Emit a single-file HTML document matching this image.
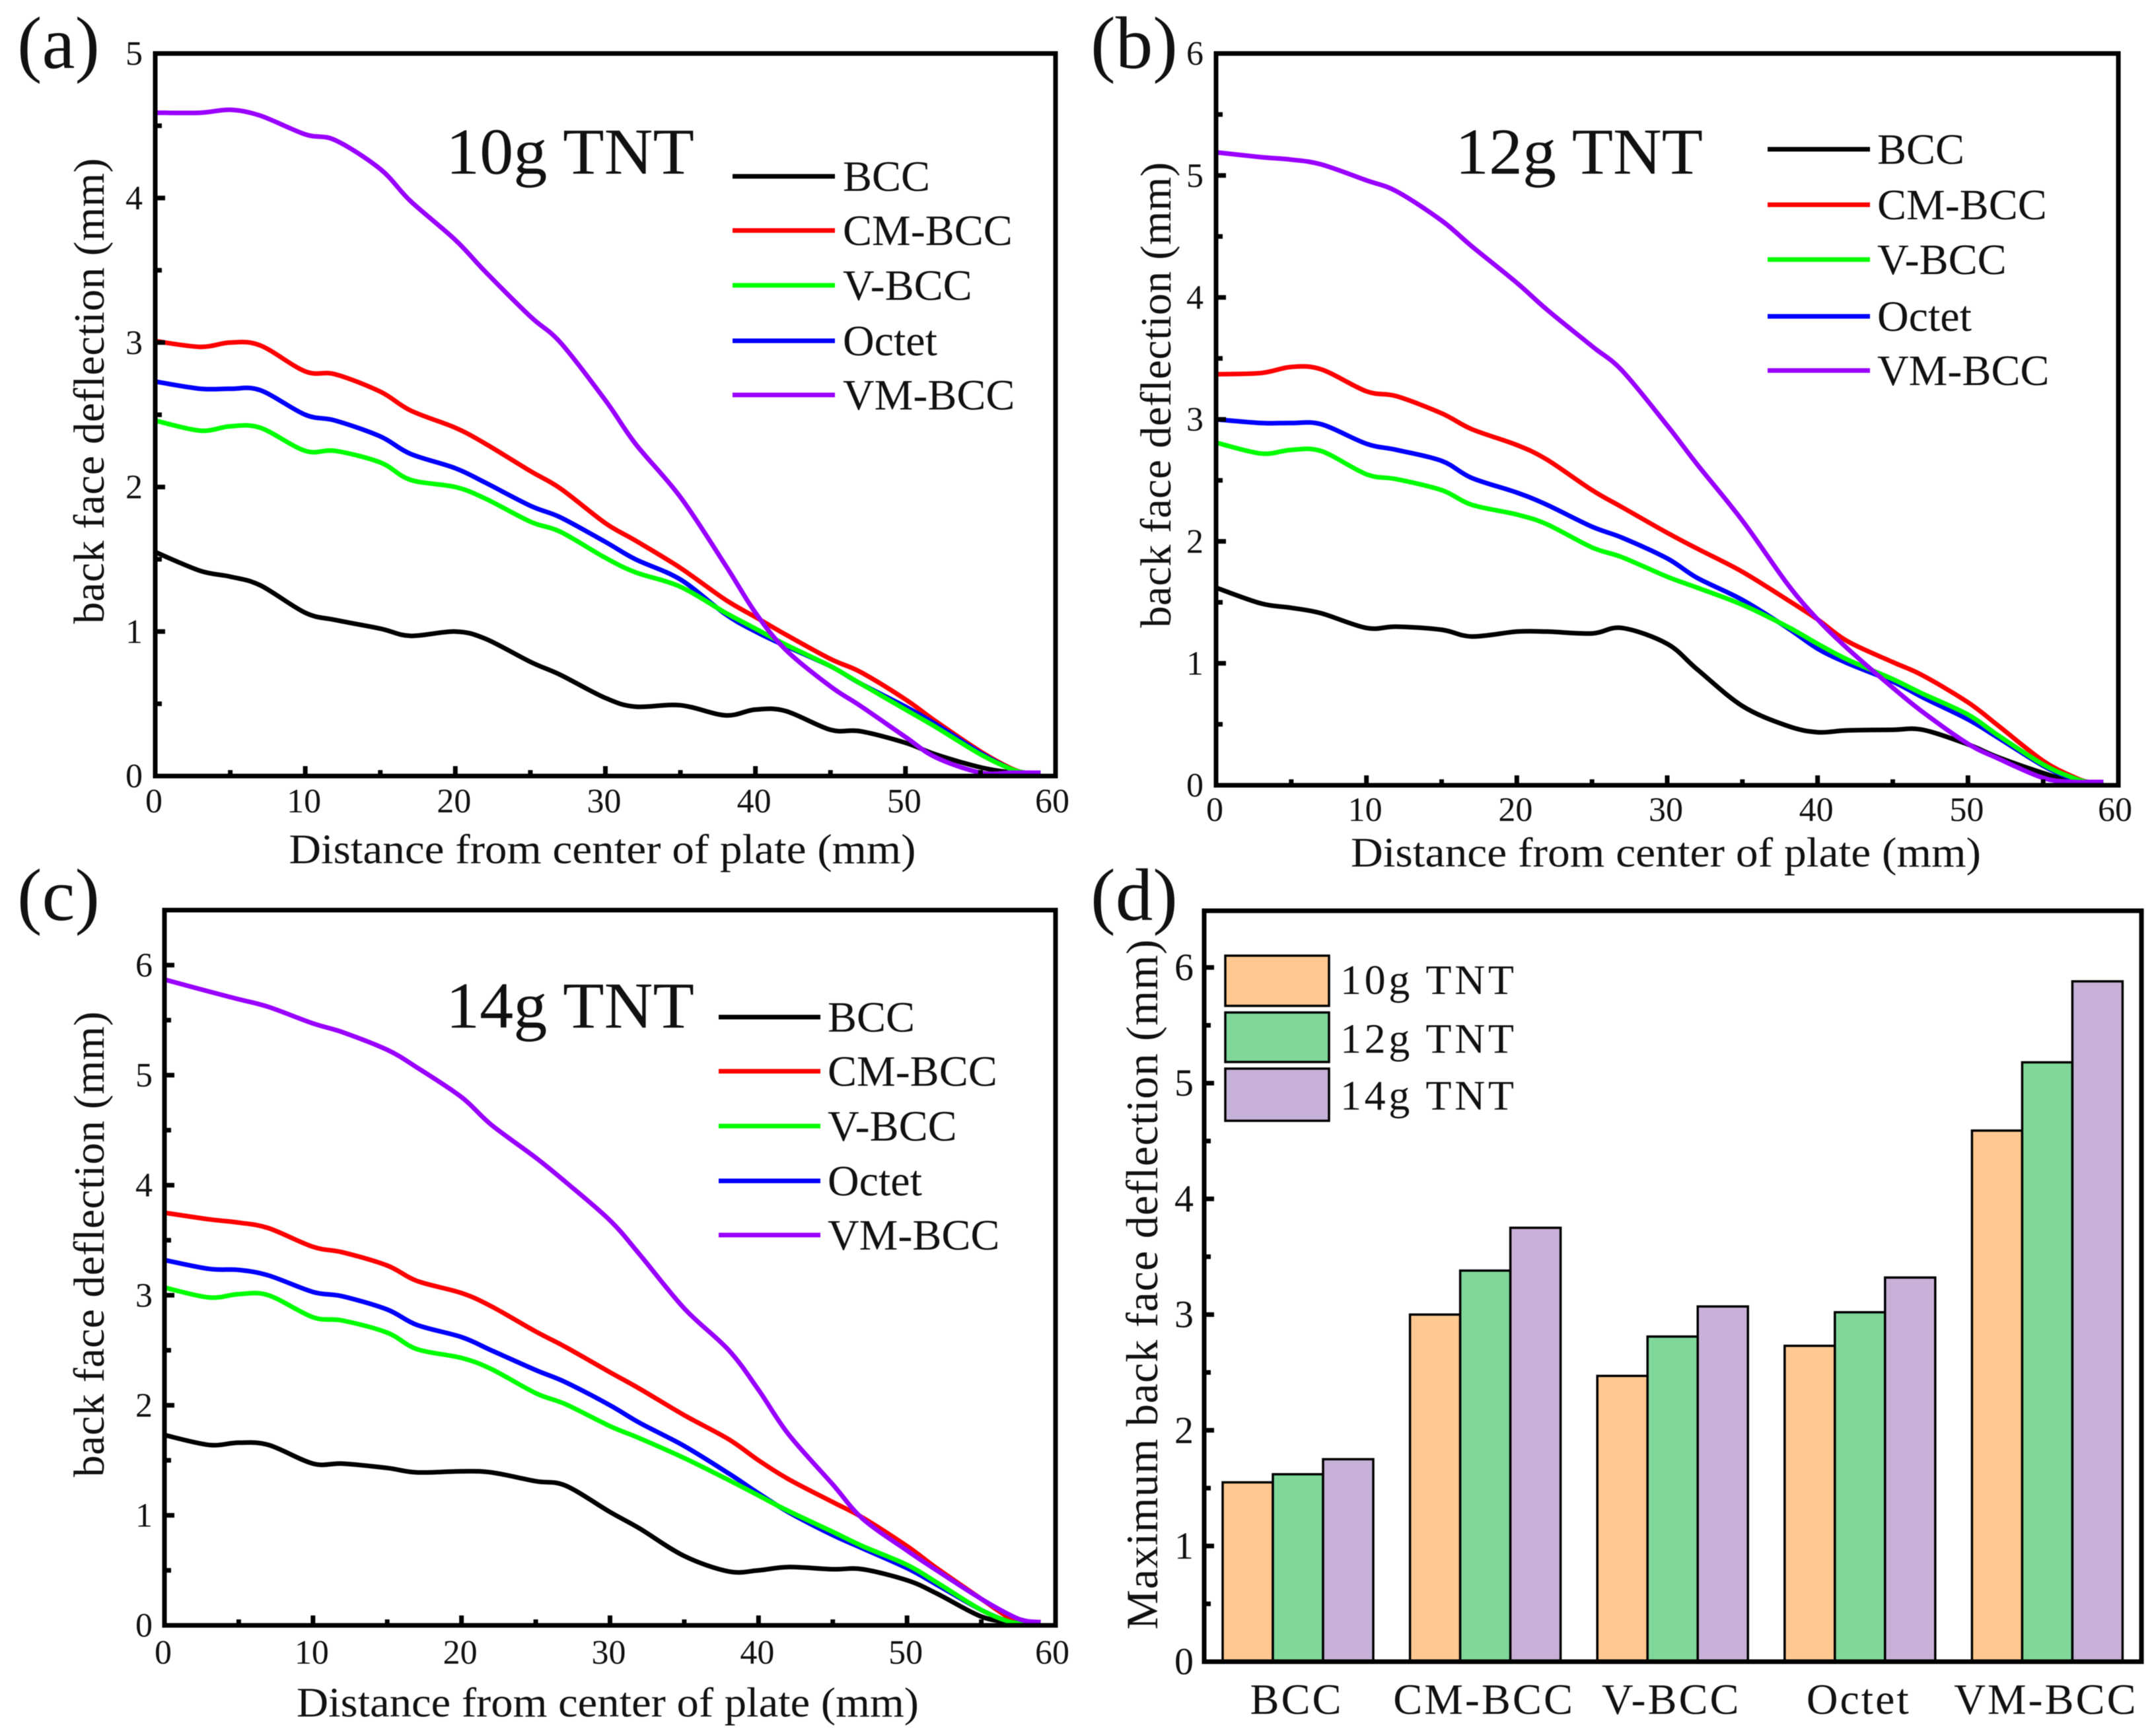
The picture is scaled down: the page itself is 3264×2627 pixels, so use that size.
<!DOCTYPE html>
<html lang="en">
<head>
<meta charset="utf-8">
<title>Back face deflection charts</title>
<style>
html,body{margin:0;padding:0;background:#fff;}
svg{display:block;filter:blur(0.6px);}
text{font-family:"Liberation Serif","Times New Roman",serif;fill:#111;}
</style>
</head>
<body>
<svg id="figure" xmlns="http://www.w3.org/2000/svg" width="3264" height="2627" viewBox="0 0 3264 2627">
<rect x="0" y="0" width="3264" height="2627" fill="#fff"/>

<g id="panel-a"></g>
<g id="panel-b"></g>
<g id="panel-c"></g>
<g id="panel-d"></g>

<text x="26" y="103" font-size="112" textLength="125" lengthAdjust="spacingAndGlyphs">(a)</text>
<text x="1651" y="103" font-size="112" textLength="132" lengthAdjust="spacingAndGlyphs">(b)</text>
<text x="26" y="1393" font-size="112" textLength="125" lengthAdjust="spacingAndGlyphs">(c)</text>
<text x="1651" y="1393" font-size="112" textLength="132" lengthAdjust="spacingAndGlyphs">(d)</text>

<text x="675" y="263" font-size="100" textLength="376" lengthAdjust="spacingAndGlyphs">10g TNT</text>
<text x="2203" y="263" font-size="100" textLength="375" lengthAdjust="spacingAndGlyphs">12g TNT</text>
<text x="675" y="1556" font-size="100" textLength="376" lengthAdjust="spacingAndGlyphs">14g TNT</text>

<text x="912" y="1307" font-size="64" text-anchor="middle" textLength="949" lengthAdjust="spacingAndGlyphs">Distance from center of plate (mm)</text>
<text x="2522" y="1312" font-size="64" text-anchor="middle" textLength="954" lengthAdjust="spacingAndGlyphs">Distance from center of plate (mm)</text>
<text x="920" y="2599" font-size="64" text-anchor="middle" textLength="942" lengthAdjust="spacingAndGlyphs">Distance from center of plate (mm)</text>

<text transform="translate(157 592) rotate(-90)" font-size="66" text-anchor="middle" textLength="705" lengthAdjust="spacing">back face deflection (mm)</text>
<text transform="translate(1772 598) rotate(-90)" font-size="66" text-anchor="middle" textLength="705" lengthAdjust="spacing">back face deflection (mm)</text>
<text transform="translate(157 1884) rotate(-90)" font-size="66" text-anchor="middle" textLength="705" lengthAdjust="spacing">back face deflection (mm)</text>
<text transform="translate(1752 1945) rotate(-90)" font-size="68" text-anchor="middle" textLength="1045" lengthAdjust="spacing">Maximum back face deflection (mm)</text>
</svg>

<script>
// ---------- chart data ----------
const distanceSamples = [0,3,5,7,10,12,15,17,20,22,25,27,30,32,35,38,40,42,45,47,50,52,55,57,58,59];

const panelABcc    = [1.55,1.42,1.38,1.32,1.13,1.08,1.02,0.97,1.00,0.95,0.79,0.70,0.54,0.48,0.49,0.42,0.46,0.45,0.32,0.31,0.23,0.15,0.06,0.025,0.01,0];
const panelACmBcc  = [3.01,2.97,3.00,2.98,2.80,2.78,2.66,2.53,2.41,2.30,2.11,1.99,1.75,1.63,1.44,1.22,1.10,0.98,0.81,0.72,0.53,0.38,0.17,0.055,0.02,0];
const panelAVBcc   = [2.46,2.39,2.42,2.41,2.25,2.25,2.17,2.05,2.00,1.92,1.76,1.69,1.51,1.41,1.31,1.13,1.02,0.91,0.76,0.64,0.46,0.34,0.15,0.05,0.015,0];
const panelAOctet  = [2.73,2.68,2.68,2.67,2.50,2.46,2.35,2.23,2.13,2.03,1.87,1.79,1.62,1.50,1.36,1.12,1.00,0.90,0.76,0.64,0.48,0.36,0.16,0.05,0.015,0];
const panelAVmBcc  = [4.59,4.59,4.61,4.57,4.44,4.40,4.20,3.98,3.71,3.49,3.18,3.00,2.60,2.30,1.93,1.46,1.13,0.875,0.62,0.485,0.27,0.13,0.016,0,0,0];

const panelBBcc    = [1.62,1.49,1.455,1.41,1.29,1.30,1.275,1.22,1.26,1.26,1.245,1.29,1.16,0.95,0.65,0.487,0.435,0.45,0.455,0.455,0.335,0.23,0.10,0.03,0.01,0];
const panelBCmBcc  = [3.37,3.38,3.43,3.41,3.23,3.19,3.05,2.92,2.79,2.67,2.42,2.28,2.07,1.94,1.75,1.52,1.36,1.18,1.01,0.90,0.68,0.49,0.20,0.07,0.02,0];
const panelBVBcc   = [2.81,2.72,2.75,2.74,2.55,2.51,2.42,2.30,2.22,2.14,1.95,1.87,1.71,1.62,1.48,1.30,1.16,1.03,0.87,0.75,0.58,0.41,0.17,0.06,0.02,0.01];
const panelBOctet  = [3.00,2.97,2.97,2.96,2.80,2.75,2.66,2.52,2.40,2.30,2.12,2.03,1.86,1.70,1.52,1.29,1.12,1.00,0.85,0.72,0.54,0.39,0.16,0.05,0.015,0];
const panelBVmBcc  = [5.19,5.15,5.13,5.09,4.96,4.87,4.63,4.42,4.12,3.90,3.60,3.40,2.95,2.63,2.17,1.65,1.36,1.12,0.80,0.60,0.34,0.22,0.06,0.01,0,0];

const panelCBcc    = [1.73,1.64,1.66,1.64,1.47,1.47,1.43,1.39,1.40,1.39,1.31,1.27,1.03,0.88,0.63,0.49,0.50,0.53,0.51,0.51,0.41,0.29,0.08,0,0,0];
const panelCCmBcc  = [3.75,3.69,3.66,3.61,3.44,3.39,3.27,3.13,3.02,2.90,2.67,2.53,2.30,2.15,1.91,1.69,1.50,1.33,1.12,0.98,0.72,0.52,0.24,0.06,0.01,0];
const panelCVBcc   = [3.07,2.98,3.01,3.00,2.80,2.77,2.66,2.51,2.43,2.33,2.11,2.01,1.81,1.70,1.52,1.32,1.18,1.04,0.85,0.72,0.55,0.39,0.14,0.03,0,0];
const panelCOctet  = [3.32,3.24,3.23,3.18,3.03,2.99,2.87,2.73,2.62,2.50,2.32,2.21,2.00,1.84,1.63,1.38,1.20,1.03,0.82,0.70,0.52,0.37,0.14,0.03,0,0];
const panelCVmBcc  = [5.87,5.76,5.69,5.62,5.47,5.39,5.23,5.07,4.80,4.55,4.25,4.03,3.68,3.37,2.88,2.50,2.14,1.74,1.28,0.97,0.68,0.50,0.24,0.09,0.04,0];

const barCategories = ['BCC','CM-BCC','V-BCC','Octet','VM-BCC'];
const bars10gTnt = [1.55,3.00,2.47,2.73,4.59];
const bars12gTnt = [1.62,3.38,2.81,3.02,5.18];
const bars14gTnt = [1.75,3.75,3.07,3.32,5.88];

const lineLegendLabels = ['BCC','CM-BCC','V-BCC','Octet','VM-BCC'];
const barLegendLabels = ['10g TNT','12g TNT','14g TNT'];
const distanceTicks = [0,10,20,30,40,50,60];
const distanceMinorTicks = [5,15,25,35,45,55];
const panelAYTicks = [0,1,2,3,4,5];
const sixUnitYTicks = [0,1,2,3,4,5,6];

// ---------- rendering ----------
const NS = 'http://www.w3.org/2000/svg';
const lineColors = {bcc:'#000000', cm:'#ff0000', v:'#00ff00', octet:'#0000ff', vm:'#9900ff'};
const legendColors = ['#000000','#ff0000','#00ff00','#0000ff','#9900ff'];
const barColors = ['#ffc890','#7fd899','#c8b1d8'];

function makeEl(tag, attrs){
  const el = document.createElementNS(NS, tag);
  for(const k in attrs){ el.setAttribute(k, attrs[k]); }
  return el;
}
function linearScale(d0,d1,r0,r1){
  return function(v){ return r0 + (v-d0)/(d1-d0)*(r1-r0); };
}
function smoothPath(points){
  let d = 'M'+points[0][0].toFixed(1)+' '+points[0][1].toFixed(1);
  for(let i=0;i<points.length-1;i++){
    const p0 = points[Math.max(0,i-1)], p1 = points[i], p2 = points[i+1], p3 = points[Math.min(points.length-1,i+2)];
    const c1x = p1[0]+(p2[0]-p0[0])/6, c1y = p1[1]+(p2[1]-p0[1])/6;
    const c2x = p2[0]-(p3[0]-p1[0])/6, c2y = p2[1]-(p3[1]-p1[1])/6;
    d += 'C'+c1x.toFixed(1)+' '+c1y.toFixed(1)+' '+c2x.toFixed(1)+' '+c2y.toFixed(1)+' '+p2[0].toFixed(1)+' '+p2[1].toFixed(1);
  }
  return d;
}
function drawTick(g, x1, y1, x2, y2, name){
  const t = makeEl('line',{x1:x1,y1:y1,x2:x2,y2:y2,stroke:'#000','stroke-width':7});
  
  
  g.appendChild(t);
}
function drawTickLabel(g, x, y, label, anchor, size, name){
  const t = makeEl('text',{x:x,y:y,'font-size':size,'text-anchor':anchor});
  
  
  t.textContent = label;
  g.appendChild(t);
}
function drawYAxis(g, box, yScale, yTicks, yMax, labelRight, size){
  yTicks.forEach(function(v){
    drawTick(g, box.left, yScale(v), box.left+15, yScale(v), 'y-major-tick');
    drawTickLabel(g, labelRight, yScale(v)+size*0.33, String(v), 'end', size, 'y-tick-label');
    if(v+0.5 <= yMax){
      drawTick(g, box.left, yScale(v+0.5), box.left+10, yScale(v+0.5), 'y-minor-tick');
    }
  });
}
function drawFrame(g, box){
  const f = makeEl('rect',{x:box.left,y:box.top,width:box.right-box.left,height:box.bottom-box.top,fill:'none',stroke:'#000','stroke-width':7});
  
  
  g.appendChild(f);
}
function drawLinePanel(cfg){
  const g = document.getElementById(cfg.id);
  const box = cfg.box;
  const xScale = linearScale(0,60,box.left,box.right);
  const yScale = linearScale(0,cfg.yMax,box.bottom,box.top);

  cfg.series.forEach(function(s){
    const pts = distanceSamples.map(function(x,i){ return [xScale(x), Math.min(yScale(s.values[i]), box.bottom-5)]; });
    const p = makeEl('path',{d:smoothPath(pts),fill:'none',stroke:s.color,'stroke-width':7,'stroke-linejoin':'round'});
    
    
    g.appendChild(p);
  });

  distanceTicks.forEach(function(v){
    if(v>0 && v<60){ drawTick(g, xScale(v), box.bottom, xScale(v), box.bottom-15, 'x-major-tick'); }
    drawTickLabel(g, xScale(v)-(v===60?5:2), cfg.xLabelBaseline, String(v), 'middle', 52, 'x-tick-label');
  });
  distanceMinorTicks.forEach(function(v){
    drawTick(g, xScale(v), box.bottom, xScale(v), box.bottom-9, 'x-minor-tick');
  });
  drawYAxis(g, box, yScale, cfg.yTicks, cfg.yMax, cfg.yLabelRight, 52);
  drawFrame(g, box);

  lineLegendLabels.forEach(function(label,i){
    const y = cfg.legend.ys[i];
    const ln = makeEl('line',{x1:cfg.legend.x1,x2:cfg.legend.x2,y1:y,y2:y,stroke:legendColors[i],'stroke-width':7});
    
    
    g.appendChild(ln);
    const t = makeEl('text',{x:cfg.legend.textX,y:y+22,'font-size':66});
    
    
    t.textContent = label;
    g.appendChild(t);
  });
}

drawLinePanel({
  id:'panel-a', box:{left:235,right:1598,top:81,bottom:1175}, yMax:5, yTicks:panelAYTicks, yLabelRight:216, xLabelBaseline:1230,
  series:[
    {name:'line-bcc-10g',values:panelABcc,color:lineColors.bcc},
    {name:'line-cm-bcc-10g',values:panelACmBcc,color:lineColors.cm},
    {name:'line-octet-10g',values:panelAOctet,color:lineColors.octet},
    {name:'line-v-bcc-10g',values:panelAVBcc,color:lineColors.v},
    {name:'line-vm-bcc-10g',values:panelAVmBcc,color:lineColors.vm}
  ],
  legend:{x1:1109,x2:1264,textX:1276,ys:[267,349,432,516,598]}
});
drawLinePanel({
  id:'panel-b', box:{left:1841,right:3207,top:81,bottom:1189}, yMax:6, yTicks:sixUnitYTicks, yLabelRight:1822, xLabelBaseline:1243,
  series:[
    {name:'line-bcc-12g',values:panelBBcc,color:lineColors.bcc},
    {name:'line-cm-bcc-12g',values:panelBCmBcc,color:lineColors.cm},
    {name:'line-octet-12g',values:panelBOctet,color:lineColors.octet},
    {name:'line-v-bcc-12g',values:panelBVBcc,color:lineColors.v},
    {name:'line-vm-bcc-12g',values:panelBVmBcc,color:lineColors.vm}
  ],
  legend:{x1:2676,x2:2831,textX:2842,ys:[226,310,393,479,561]}
});
drawLinePanel({
  id:'panel-c', box:{left:249,right:1598,top:1378,bottom:2461}, yMax:6.5, yTicks:sixUnitYTicks, yLabelRight:231, xLabelBaseline:2519,
  series:[
    {name:'line-bcc-14g',values:panelCBcc,color:lineColors.bcc},
    {name:'line-cm-bcc-14g',values:panelCCmBcc,color:lineColors.cm},
    {name:'line-octet-14g',values:panelCOctet,color:lineColors.octet},
    {name:'line-v-bcc-14g',values:panelCVBcc,color:lineColors.v},
    {name:'line-vm-bcc-14g',values:panelCVmBcc,color:lineColors.vm}
  ],
  legend:{x1:1088,x2:1242,textX:1253,ys:[1540,1622,1705,1788,1870]}
});

(function drawBarPanel(){
  const g = document.getElementById('panel-d');
  const box = {left:1823,right:3242,top:1379,bottom:2516};
  const yScale = linearScale(0,6.49,box.bottom,box.top);
  const firstCenter = 1965, groupStep = 283.6, barWidth = 76;
  const groups = [bars10gTnt, bars12gTnt, bars14gTnt];

  barCategories.forEach(function(cat,i){
    const cx = firstCenter + i*groupStep;
    groups.forEach(function(vals,j){
      const x = cx + (j-1.5)*barWidth;
      const r = makeEl('rect',{x:x,y:yScale(vals[i]),width:barWidth,height:box.bottom-yScale(vals[i]),fill:barColors[j],stroke:'#000','stroke-width':3.5});
      
      
      g.appendChild(r);
    });
    const t = makeEl('text',{x:cx-2,y:2595,'font-size':66,'text-anchor':'middle','letter-spacing':'3'});
    
    
    t.textContent = cat;
    g.appendChild(t);
  });

  drawYAxis(g, box, yScale, sixUnitYTicks, 6.49, 1807, 58);
  drawFrame(g, box);

  const swatchTops = [1447,1533,1618];
  const swatchHeights = [76,75,79];
  const legendBaselines = [1505,1594,1680];
  barLegendLabels.forEach(function(label,i){
    const r = makeEl('rect',{x:1855,y:swatchTops[i],width:157,height:swatchHeights[i],fill:barColors[i],stroke:'#000','stroke-width':3.5});
    
    
    g.appendChild(r);
    const t = makeEl('text',{x:2029,y:legendBaselines[i],'font-size':64,textLength:263,lengthAdjust:'spacing'});
    
    
    t.textContent = label;
    g.appendChild(t);
  });
})();
</script>
</body>
</html>
